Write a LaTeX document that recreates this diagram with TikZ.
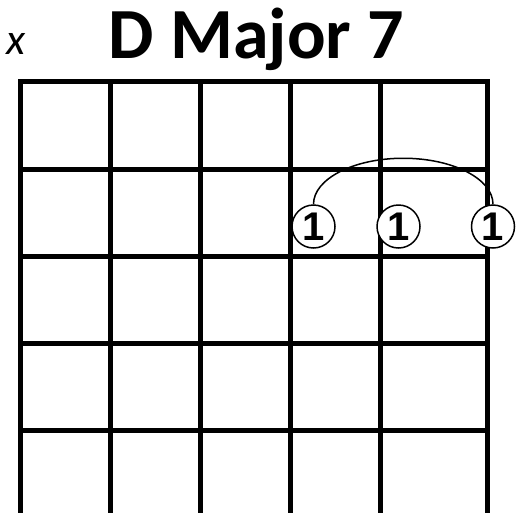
\documentclass[tikz,border=0pt]{standalone}
\usepackage{fontspec}
\setmainfont{Carlito}
\setsansfont{Liberation Sans}
\usetikzlibrary{positioning}

\begin{document}
\begin{tikzpicture}[x=1pt, y=-1pt, line join=round,
    fret/.style={line width=5pt, line cap=rect},
    finger/.style={circle, draw, fill=white, line width=1.5pt,
      minimum size=43pt, inner sep=0pt,
      font=\sffamily\bfseries\fontsize{40}{42}\selectfont},
    title/.style={anchor=base, font=\bfseries\fontsize{72}{86}\selectfont},
    mute/.style={anchor=base, font=\itshape\fontsize{44}{48}\selectfont}]
  \useasboundingbox (0,0) rectangle (516,512);
  % --- chord name and muted string -----------------------------------
  \node[title] (name) at (256.5,58) {D Major 7};
  \node[mute] (muted) at (16.5,54) {x};
  % --- frets (horizontal) ----------------------------------------------
  \draw[fret] (20,81.5) -- (487,81.5);
  \draw[fret] (20,169) -- (487,169);
  \draw[fret] (20,256) -- (487,256);
  \draw[fret] (20,343) -- (487,343);
  \draw[fret] (20,430) -- (487,430);
  % --- strings (vertical) ----------------------------------------------
  \draw[fret] (20,81.5) -- (20,515);
  \draw[fret] (110,81.5) -- (110,515);
  \draw[fret] (200,81.5) -- (200,515);
  \draw[fret] (290,81.5) -- (290,515);
  \draw[fret] (380,81.5) -- (380,515);
  \draw[fret] (487,81.5) -- (487,515);
  % --- barre on the second fret --------------------------------------
  \node[finger] (f4) at (313.5,226.5) {1};
  \node[finger] (f5) at (398.5,226.5) {1};
  \node[finger] (f6) at (493,226.5) {1};
  \draw[line width=1.5pt] (f4.north)
     arc[start angle=180, end angle=360, x radius=89.75, y radius=46];
\end{tikzpicture}
\end{document}
